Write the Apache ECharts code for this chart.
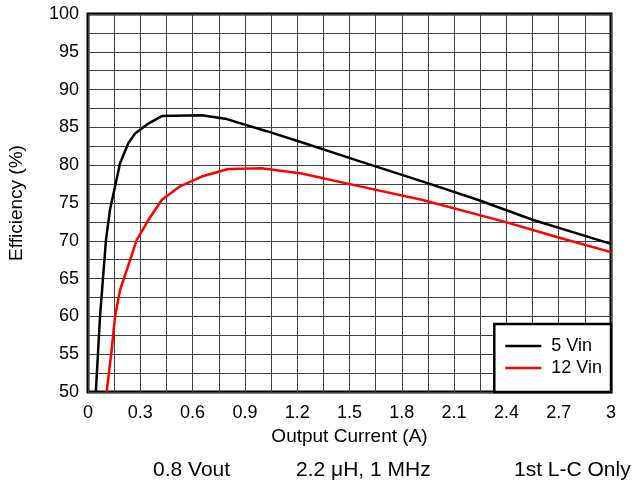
<!DOCTYPE html>
<html>
<head>
<meta charset="utf-8">
<script src="https://cdn.jsdelivr.net/npm/echarts@6/dist/echarts.min.js"></script>
<style>
  html, body { margin: 0; padding: 0; background: #fff; }
  #chart { width: 633px; height: 485px; }
</style>
</head>
<body>
<div id="chart"></div>
<script>
// values
const current5 = [0.045, 0.069, 0.103, 0.126, 0.184, 0.231, 0.27, 0.346, 0.423, 0.652, 0.796, 1.025, 1.216, 1.56, 1.952, 2.239, 2.554, 3.0];
const eff5     = [50, 60, 70.1, 74.1, 80.25, 82.9, 84.2, 85.5, 86.5, 86.6, 86.1, 84.5, 83.1, 80.5, 77.6, 75.4, 72.75, 69.6];
const current12 = [0.107, 0.136, 0.155, 0.184, 0.222, 0.279, 0.346, 0.423, 0.528, 0.652, 0.805, 0.996, 1.226, 1.56, 1.92, 2.392, 2.689, 3.0];
const eff12     = [50, 55.6, 60, 63.5, 66.1, 70.1, 72.75, 75.4, 77.2, 78.5, 79.5, 79.6, 78.9, 77.2, 75.4, 72.5, 70.5, 68.5];
const seriesNames = ['5 Vin', '12 Vin'];
const footNotes = ['0.8 Vout', '2.2 μH, 1 MHz', '1st L-C Only'];

const font = '"Liberation Sans", Arial, sans-serif';
const gridLine = { show: true, lineStyle: { color: '#404040', width: 1 } };

let chart = echarts.init(document.getElementById('chart'));

function pairs(xs, ys) {
  return xs.map((x, i) => [x, ys[i]]);
}

let option = {
  animation: false,
  backgroundColor: '#fff',
  grid: {
    left: 88, right: 22, top: 14, bottom: 93,
    outerBoundsMode: 'none',
    show: true, borderColor: '#000', borderWidth: 3
  },
  xAxis: {
    type: 'value', min: 0, max: 3, interval: 0.3,
    name: 'Output Current (A)', nameLocation: 'middle', nameGap: 33,
    nameTextStyle: { fontFamily: font, fontSize: 19, color: '#000' },
    axisLine: { show: false }, axisTick: { show: false },
    axisLabel: {
      fontFamily: font, fontSize: 18, color: '#000', margin: 12,
      formatter: v => String(parseFloat(v.toFixed(2)))
    },
    splitLine: gridLine,
    minorTick: { show: false, splitNumber: 2 },
    minorSplitLine: gridLine
  },
  yAxis: {
    type: 'value', min: 50, max: 100, interval: 5,
    name: 'Efficiency (%)', nameLocation: 'middle', nameGap: 62,
    nameTextStyle: { fontFamily: font, fontSize: 19, color: '#000' },
    axisLine: { show: false }, axisTick: { show: false },
    axisLabel: { fontFamily: font, fontSize: 18, color: '#000', margin: 9 },
    splitLine: gridLine,
    minorTick: { show: false, splitNumber: 2 },
    minorSplitLine: gridLine
  },
  legend: {
    orient: 'vertical', right: 22, bottom: 93,
    data: seriesNames,
    icon: 'rect',
    backgroundColor: '#fff', borderColor: '#000', borderWidth: 2.5,
    padding: [11, 9, 13, 11],
    itemWidth: 36, itemHeight: 2.5, itemGap: 0,
    textStyle: { fontFamily: font, fontSize: 18, lineHeight: 22, color: '#000', padding: [0, 0, 0, 5] }
  },
  graphic: [
    { type: 'text', left: 153, top: 460, style: { text: footNotes[0], font: '21px ' + font, fill: '#000' } },
    { type: 'text', left: 296, top: 460, style: { text: footNotes[1], font: '21px ' + font, fill: '#000' } },
    { type: 'text', left: 514, top: 460, style: { text: footNotes[2], font: '21px ' + font, fill: '#000' } }
  ],
  series: [
    {
      name: seriesNames[0], type: 'line', symbol: 'none',
      lineStyle: { color: '#000', width: 2.5 }, itemStyle: { color: '#000' },
      data: pairs(current5, eff5), z: 3
    },
    {
      name: seriesNames[1], type: 'line', symbol: 'none',
      lineStyle: { color: '#ff0000', width: 2.5 }, itemStyle: { color: '#ff0000' },
      data: pairs(current12, eff12), z: 3
    }
  ]
};
chart.setOption(option);
</script>
</body>
</html>
